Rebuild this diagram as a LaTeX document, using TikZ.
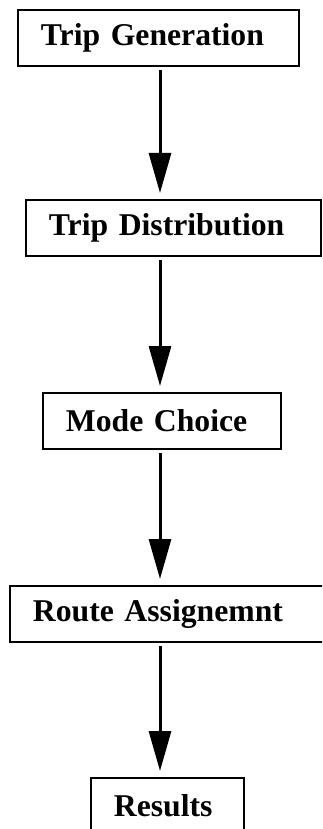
\documentclass[tikz,border=0pt]{standalone}
\usepackage{fontspec}
\setmainfont{Liberation Serif}
\usetikzlibrary{positioning,arrows.meta}

\begin{document}
\begin{tikzpicture}[x=1pt,y=-1pt,
    stage/.style={draw, line width=1.8pt, anchor=north west, align=left,
        inner xsep=23pt, inner ysep=0pt, minimum height=56pt,
        font=\fontsize{31.7}{36}\selectfont\bfseries},
    flow/.style={-{Triangle[length=40pt,width=22pt]}, line width=3pt,
        shorten <=3pt, shorten >=6pt}]
    \clip (0,0) rectangle (322,829);
    \useasboundingbox (0,0) rectangle (322,829);
    \coordinate (axis) at (160,0);
    \node[stage, text width=235pt] (gen) at (17,9) {Trip Generation};
    \node[stage, text width=249pt] (dist) at (25,199) {Trip Distribution};
    \node[stage, text width=192pt] (mode) at (42,392) {Mode Choice};
    \node[stage, text width=290pt] (route) at (9,585) {Route Assignemnt};
    \node[stage, text width=107pt] (res) at (90,777) {Results};
    \draw[flow] (gen.south -| axis) -- (dist.north -| axis);
    \draw[flow] (dist.south -| axis) -- (mode.north -| axis);
    \draw[flow] (mode.south -| axis) -- (route.north -| axis);
    \draw[flow] (route.south -| axis) -- (res.north -| axis);
\end{tikzpicture}
\end{document}
